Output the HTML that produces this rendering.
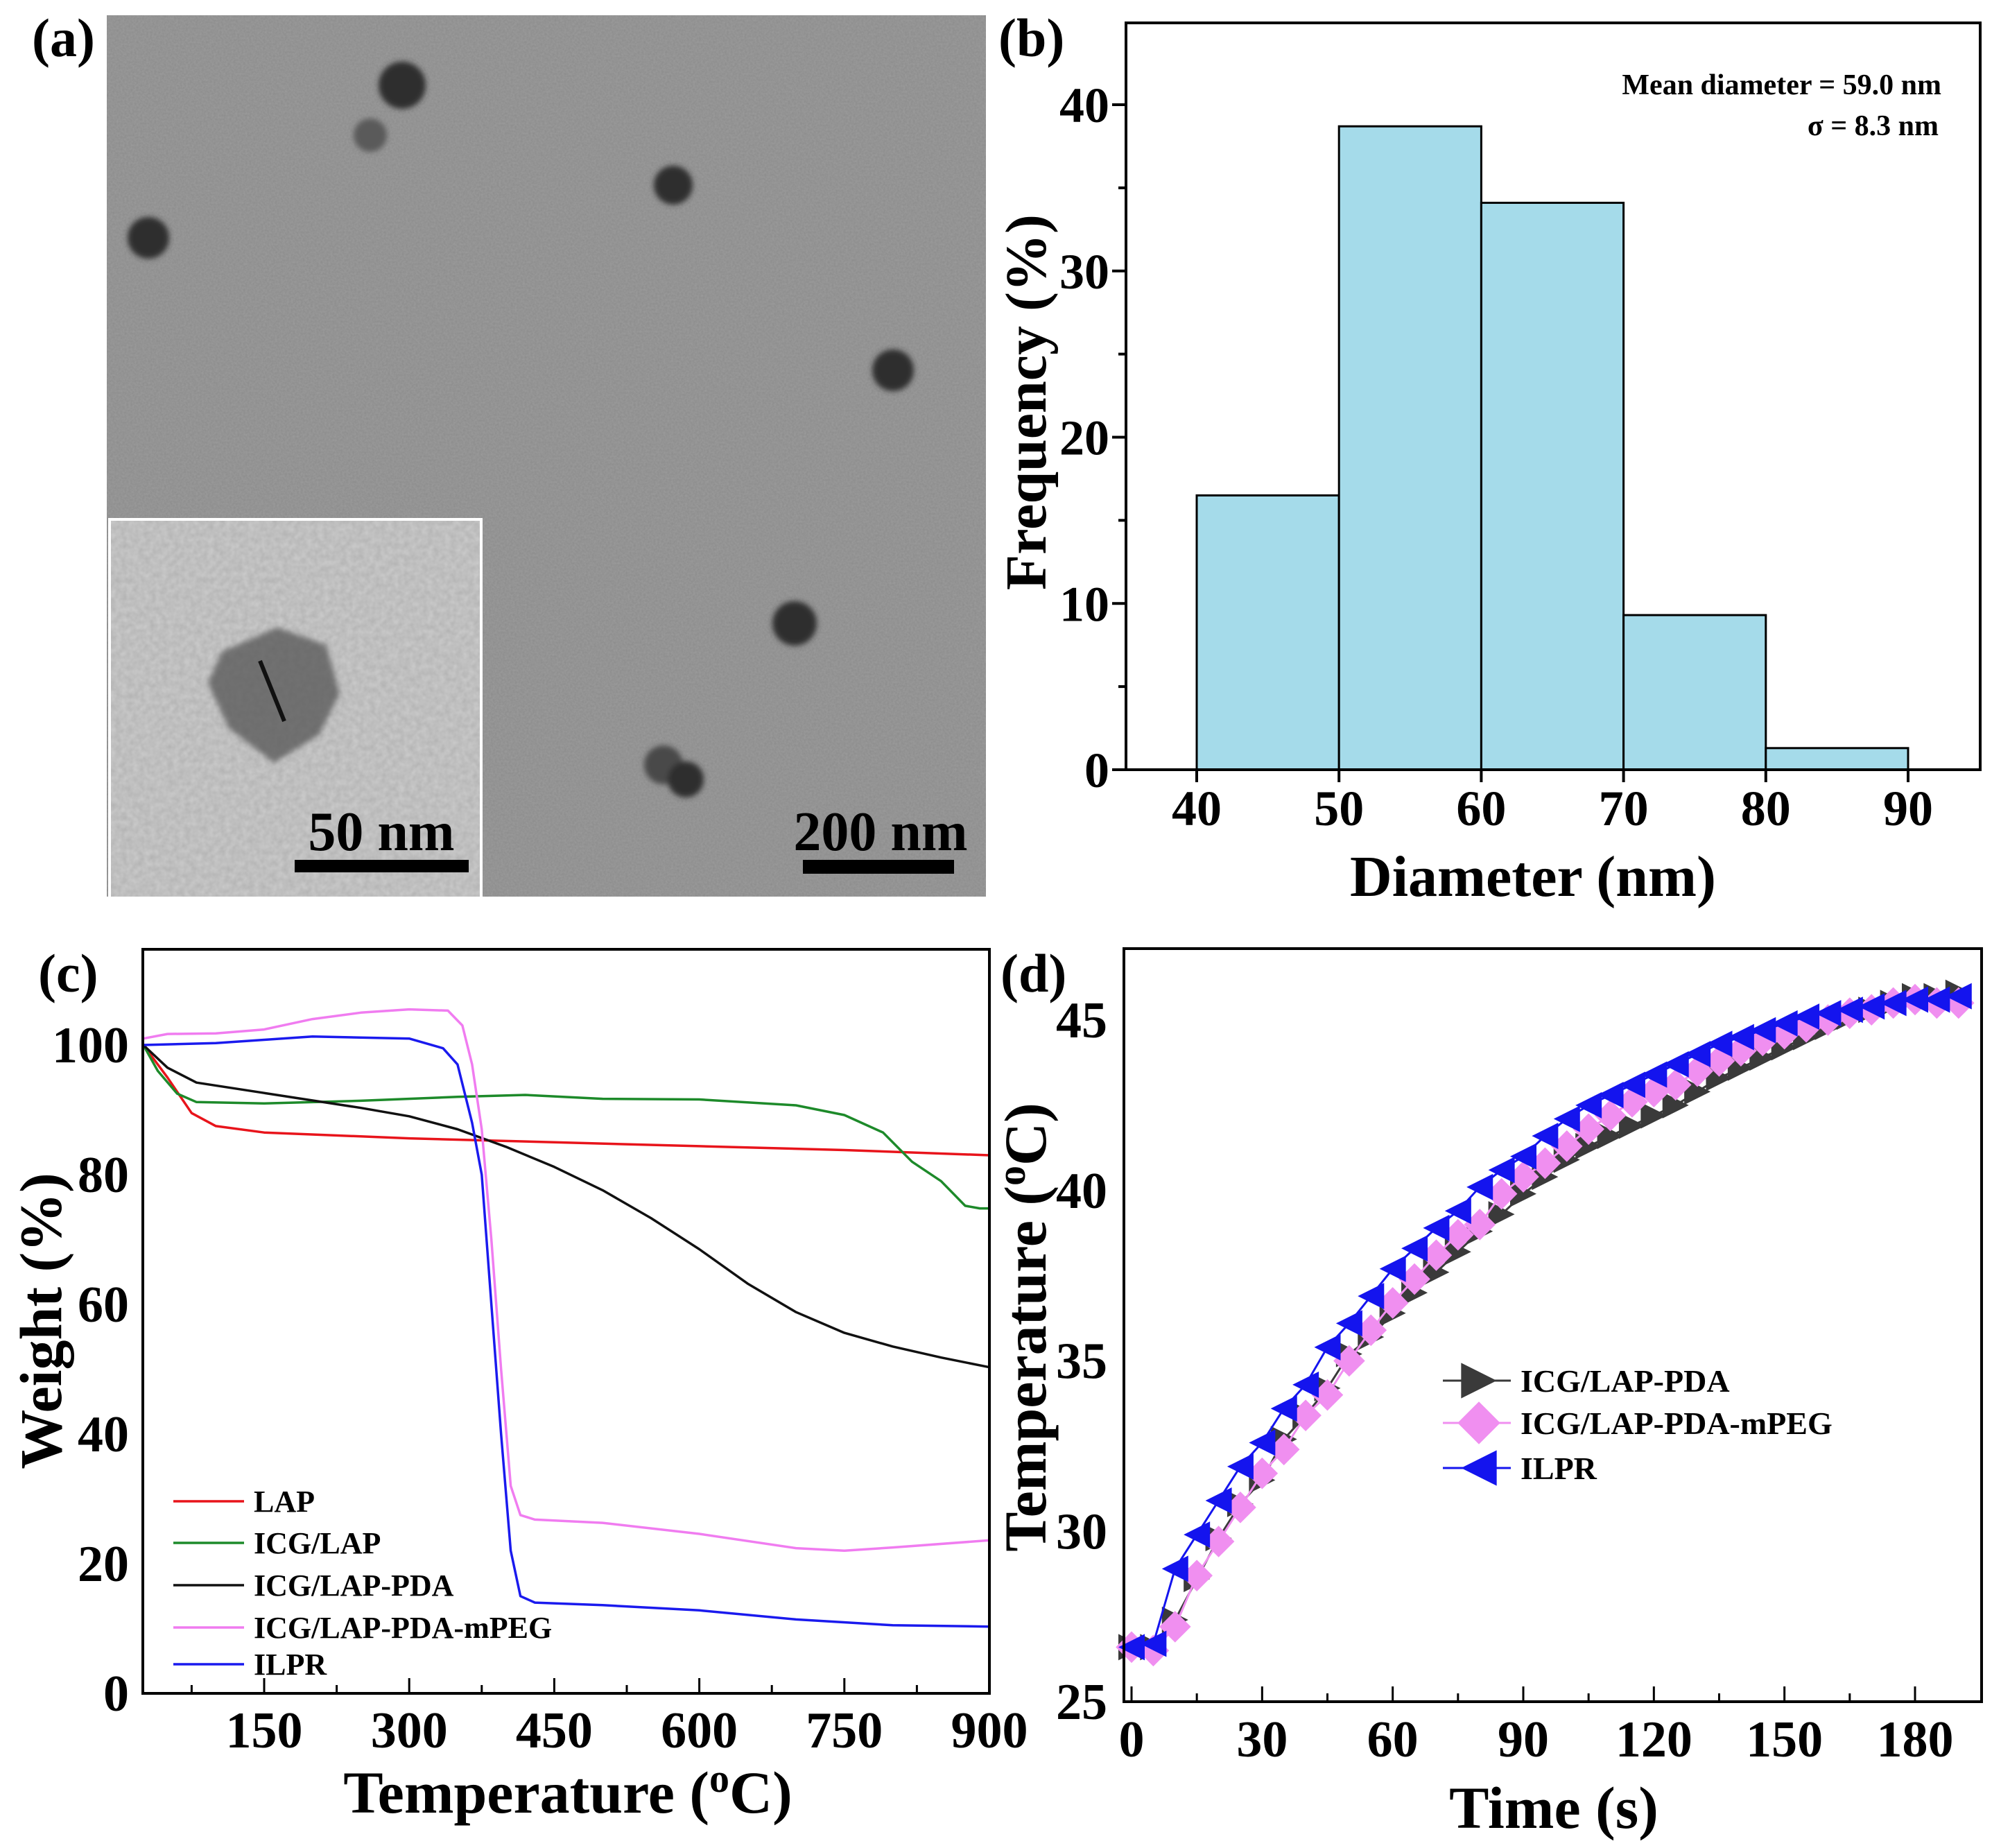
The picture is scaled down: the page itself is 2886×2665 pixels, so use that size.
<!DOCTYPE html>
<html><head><meta charset="utf-8"><style>
html,body{margin:0;padding:0;background:#fff}
svg{display:block}
text{font-family:"Liberation Serif",serif;font-weight:bold;fill:#000}
</style></head><body>
<svg id="fig" width="2886" height="2665" viewBox="0 0 2886 2665" xmlns="http://www.w3.org/2000/svg">
<defs>
<filter id="noise" x="0" y="0" width="100%" height="100%">
<feTurbulence type="fractalNoise" baseFrequency="0.35" numOctaves="2" seed="3"/>
<feColorMatrix type="matrix" values="0 0 0 0 0.5  0 0 0 0 0.5  0 0 0 0 0.5  0 0 0 0.35 0"/>
</filter>
<filter id="noise2" x="0" y="0" width="100%" height="100%">
<feTurbulence type="fractalNoise" baseFrequency="0.12" numOctaves="2" seed="7"/>
<feColorMatrix type="matrix" values="0 0 0 0 0.4  0 0 0 0 0.4  0 0 0 0 0.4  0 0 0 0.9 -0.15"/>
</filter>
<filter id="blur"><feGaussianBlur stdDeviation="4"/></filter>
</defs>

<g>
<rect x="154" y="22" width="1268" height="1271" fill="#8b8b8b"/>
<rect x="154" y="22" width="1268" height="1271" filter="url(#noise)"/>
<g fill="#2e2e2e" filter="url(#blur)">
<circle cx="580" cy="123" r="34"/><circle cx="534" cy="195" r="24" fill="#5a5a5a"/>
<circle cx="971" cy="267" r="28"/><circle cx="214" cy="343" r="30"/>
<circle cx="1288" cy="534" r="30"/><circle cx="1146" cy="899" r="32"/>
<circle cx="957" cy="1103" r="28" fill="#4a4a4a"/><circle cx="989" cy="1124" r="26"/>
</g>
<rect x="160" y="751" width="532" height="542" fill="#c8c8c8"/>
<rect x="160" y="751" width="532" height="542" filter="url(#noise2)"/>
<rect x="158" y="749" width="536" height="546" fill="none" stroke="#fff" stroke-width="4"/>
<path d="M320,940 L400,905 L470,930 L490,1000 L460,1060 L395,1100 L330,1050 L300,985 Z" fill="#555" opacity="0.75" filter="url(#blur)"/>
<line x1="375" y1="953" x2="410" y2="1040" stroke="#111" stroke-width="6"/>
<rect x="425" y="1240" width="251" height="18" fill="#000"/>
<text x="550" y="1226" font-size="80" text-anchor="middle">50 nm</text>
<rect x="1158" y="1240" width="218" height="20" fill="#000"/>
<text x="1270" y="1226" font-size="80" text-anchor="middle">200 nm</text>
<text x="46" y="81" font-size="78">(a)</text>
</g>

<g id="pb"></g>
<g id="pc"></g>
<g id="pd"></g>
</svg>
<script>
// ---- Panel b data ----
const binEdges = [40, 50, 60, 70, 80, 90];
const binFreq = [16.5, 38.7, 34.1, 9.3, 1.3];
const bXTicks = [40, 50, 60, 70, 80, 90];
const bYTicks = [0, 10, 20, 30, 40];

// ---- Panel c data ----
const lapT = [25, 50, 75, 100, 150, 300, 450, 600, 750, 900];
const lapW = [100, 95, 89.5, 87.5, 86.5, 85.6, 85, 84.4, 83.8, 83];
const icgT = [25, 40, 60, 80, 150, 250, 350, 420, 500, 600, 700, 750, 790, 820, 850, 875, 890, 900];
const icgW = [100, 96, 92.5, 91.2, 91, 91.4, 92, 92.3, 91.7, 91.6, 90.7, 89.2, 86.5, 82, 79, 75.2, 74.8, 74.8];
const pdaT = [25, 50, 80, 150, 250, 300, 350, 400, 450, 500, 550, 600, 650, 700, 750, 800, 850, 900];
const pdaW = [100, 96.5, 94.2, 92.6, 90.3, 89, 87, 84.3, 81.2, 77.6, 73.3, 68.5, 63.2, 58.8, 55.6, 53.5, 51.8, 50.3];
const pegT = [25, 50, 100, 150, 200, 250, 300, 340, 355, 365, 375, 385, 395, 405, 415, 430, 500, 600, 700, 750, 800, 900];
const pegW = [101, 101.7, 101.8, 102.4, 104, 105, 105.5, 105.3, 103, 97, 87, 70, 50, 32, 27.5, 26.8, 26.3, 24.6, 22.4, 22, 22.5, 23.6];
const ilprT = [25, 100, 150, 200, 300, 335, 350, 365, 375, 385, 395, 405, 415, 430, 500, 600, 700, 800, 900];
const ilprW = [100, 100.3, 100.8, 101.3, 101, 99.5, 97, 88, 80, 60, 40, 22, 15, 14, 13.6, 12.8, 11.4, 10.5, 10.3];
const cXTicks = [150, 300, 450, 600, 750, 900];
const cYTicks = [0, 20, 40, 60, 80, 100];

// ---- Panel d data ----
const timeS = [0,5,10,15,20,25,30,35,40,45,50,55,60,65,70,75,80,85,90,95,100,105,110,115,120,125,130,135,140,145,150,155,160,165,170,175,180,185,190];
const ilprTemp = [26.6,26.7,28.9,29.9,30.9,31.9,32.6,33.6,34.3,35.4,36.1,36.9,37.7,38.3,38.9,39.4,40.1,40.6,41.0,41.6,42.1,42.5,42.8,43.1,43.4,43.7,44.0,44.3,44.5,44.7,44.9,45.1,45.2,45.3,45.4,45.5,45.6,45.6,45.7];
const pegTemp = [26.6,26.5,27.2,28.7,29.7,30.7,31.7,32.4,33.4,34.0,35.0,35.9,36.7,37.4,38.1,38.7,39.0,39.9,40.4,40.8,41.3,41.8,42.2,42.6,42.9,43.1,43.5,43.8,44.1,44.4,44.6,44.8,45.0,45.2,45.3,45.5,45.6,45.5,45.5];
const pdaTemp = [26.6,26.6,27.4,28.6,29.8,30.8,31.5,32.7,33.4,34.2,35.2,35.7,36.4,37.0,37.6,38.2,38.8,39.3,39.9,40.4,40.9,41.3,41.6,41.9,42.2,42.5,42.9,43.3,43.6,43.9,44.2,44.5,44.8,45.1,45.3,45.5,45.7,45.7,45.8];
const dXTicks = [0, 30, 60, 90, 120, 150, 180];
const dYTicks = [25, 30, 35, 40, 45];

const NS = "http://www.w3.org/2000/svg";
function mk(parent, tag, attrs, txt) {
  const e = document.createElementNS(NS, tag);
  for (const k in attrs) e.setAttribute(k, attrs[k]);
  if (txt !== undefined) e.textContent = txt;
  parent.appendChild(e);
  return e;
}
function lin(d0, d1, r0, r1) { return v => r0 + (v - d0) / (d1 - d0) * (r1 - r0); }

// ================= Panel b =================
(function () {
  const g = document.getElementById('pb');
  const L = 1624, R = 2856, T = 33, B = 1110;
  const x = lin(40, 90, 1726, 2752);
  const y = lin(0, 40, 1110, 151);
  for (let i = 0; i < binFreq.length; i++) {
    const r = mk(g, 'rect', { x: x(binEdges[i]), y: y(binFreq[i]), width: x(binEdges[i + 1]) - x(binEdges[i]), height: y(0) - y(binFreq[i]), fill: '#a5dbea', stroke: '#000', 'stroke-width': 3 });
    
    
  }
  const box = mk(g, 'rect', { x: L, y: T, width: R - L, height: B - T, fill: 'none', stroke: '#000', 'stroke-width': 4 });
  
  
  bXTicks.forEach(v => {
    mk(g, 'line', { x1: x(v), y1: B, x2: x(v), y2: B + 18, stroke: '#000', 'stroke-width': 4 });
    const t = mk(g, 'text', { x: x(v), y: 1190, 'font-size': 72, 'text-anchor': 'middle' }, v);
    
    
  });
  for (let v = 0; v <= 40; v += 5) {
    mk(g, 'line', { x1: L, y1: y(v), x2: L - (v % 10 === 0 ? 20 : 11), y2: y(v), stroke: '#000', 'stroke-width': 4 });
  }
  bYTicks.forEach(v => {
    const t = mk(g, 'text', { x: 1600, y: y(v) + 25, 'font-size': 72, 'text-anchor': 'end' }, v);
    
    
  });
  const xt = mk(g, 'text', { x: 2211, y: 1292, 'font-size': 84, 'text-anchor': 'middle' }, 'Diameter (nm)');
  
  
  const yt = mk(g, 'text', { x: 0, y: 0, 'font-size': 84, 'text-anchor': 'middle', transform: 'translate(1508,580) rotate(-90)' }, 'Frequency (%)');
  
  
  const a1 = mk(g, 'text', { x: 2800, y: 136, 'font-size': 42, 'text-anchor': 'end' }, 'Mean diameter = 59.0 nm');
  
  
  const a2 = mk(g, 'text', { x: 2796, y: 195, 'font-size': 42, 'text-anchor': 'end' }, 'σ = 8.3 nm');
  
  
  const pl = mk(g, 'text', { x: 1440, y: 81, 'font-size': 78 }, '(b)');
  
  
})();

// ================= Panel c =================
(function () {
  const g = document.getElementById('pc');
  const L = 206, R = 1427, T = 1369, B = 2442;
  const x = lin(150, 900, 381, 1427);
  const y = lin(0, 100, 2442, 1507);
  const series = [
    [lapT, lapW, '#e8141b', 'LAP', 'lap-line'],
    [icgT, icgW, '#1d8a2a', 'ICG/LAP', 'icg-lap-line'],
    [pdaT, pdaW, '#111111', 'ICG/LAP-PDA', 'icg-lap-pda-line'],
    [pegT, pegW, '#f07cf0', 'ICG/LAP-PDA-mPEG', 'icg-lap-pda-mpeg-line'],
    [ilprT, ilprW, '#1a1aee', 'ILPR', 'ilpr-line']
  ];
  series.forEach(s => {
    const pts = s[0].map((t, i) => x(t).toFixed(1) + ',' + y(s[1][i]).toFixed(1)).join(' ');
    const p = mk(g, 'polyline', { points: pts, fill: 'none', stroke: s[2], 'stroke-width': 3.5, 'stroke-linejoin': 'round' });
    
    
  });
  const box = mk(g, 'rect', { x: L, y: T, width: R - L, height: B - T, fill: 'none', stroke: '#000', 'stroke-width': 4 });
  
  
  for (let v = 75; v <= 900; v += 75) {
    const major = v % 150 === 0;
    mk(g, 'line', { x1: x(v), y1: B, x2: x(v), y2: B - (major ? 22 : 12), stroke: '#000', 'stroke-width': 3 });
  }
  cXTicks.forEach(v => {
    const t = mk(g, 'text', { x: x(v), y: 2520, 'font-size': 74, 'text-anchor': 'middle' }, v);
    
    
  });
  cYTicks.forEach(v => {
    const t = mk(g, 'text', { x: 186, y: y(v) + 25, 'font-size': 74, 'text-anchor': 'end' }, v);
    
    
  });
  const xt = mk(g, 'text', { x: 819, y: 2614, 'font-size': 86, 'text-anchor': 'middle' });
  
  
  xt.innerHTML = 'Temperature (<tspan font-size="58" dy="-30">o</tspan><tspan dy="30">C)</tspan>';
  const yt = mk(g, 'text', { x: 0, y: 0, 'font-size': 86, 'text-anchor': 'middle', transform: 'translate(88,1905) rotate(-90)' }, 'Weight (%)');
  
  
  const ly = [2165, 2225, 2286, 2347, 2400];
  series.forEach((s, i) => {
    const l = mk(g, 'line', { x1: 250, y1: ly[i], x2: 352, y2: ly[i], stroke: s[2], 'stroke-width': 3.5 });
    
    
    const t = mk(g, 'text', { x: 366, y: ly[i] + 15, 'font-size': 44 }, s[3]);
    
    
  });
  const pl = mk(g, 'text', { x: 55, y: 1430, 'font-size': 78 }, '(c)');
  
  
})();

// ================= Panel d =================
(function () {
  const g = document.getElementById('pd');
  const L = 1621, R = 2858, T = 1368, B = 2454;
  const x = lin(0, 180, 1632, 2762);
  const y = lin(25, 45, 2454, 1471);
  const rad = 19;
  function marker(parent, kind, cx, cy, col) {
    let pts;
    if (kind === 'right') pts = [[cx - rad, cy - rad], [cx + rad, cy], [cx - rad, cy + rad]];
    else if (kind === 'left') pts = [[cx + rad, cy - rad], [cx - rad, cy], [cx + rad, cy + rad]];
    else pts = [[cx, cy - rad * 1.2], [cx + rad * 1.2, cy], [cx, cy + rad * 1.2], [cx - rad * 1.2, cy]];
    return mk(parent, 'polygon', { points: pts.map(p => p.join(',')).join(' '), fill: col });
  }
  const series = [
    [pdaTemp, '#3a3a3a', 'right', 'ICG/LAP-PDA', 'icg-lap-pda-series'],
    [pegTemp, '#f08ff0', 'diamond', 'ICG/LAP-PDA-mPEG', 'icg-lap-pda-mpeg-series'],
    [ilprTemp, '#1414ee', 'left', 'ILPR', 'ilpr-series']
  ];
  series.forEach(s => {
    const sg = mk(g, 'g', {});
    
    
    const pts = timeS.map((t, i) => x(t).toFixed(1) + ',' + y(s[0][i]).toFixed(1)).join(' ');
    mk(sg, 'polyline', { points: pts, fill: 'none', stroke: s[1], 'stroke-width': 3 });
    timeS.forEach((t, i) => {
      const m = marker(sg, s[2], x(t), y(s[0][i]), s[1]);
      
      
    });
  });
  const box = mk(g, 'rect', { x: L, y: T, width: R - L, height: B - T, fill: 'none', stroke: '#000', 'stroke-width': 4 });
  
  
  for (let v = 0; v <= 190; v += 15) {
    const major = v % 30 === 0;
    mk(g, 'line', { x1: x(v), y1: B, x2: x(v), y2: B - (major ? 22 : 12), stroke: '#000', 'stroke-width': 3 });
  }
  dXTicks.forEach(v => {
    const t = mk(g, 'text', { x: x(v), y: 2533, 'font-size': 74, 'text-anchor': 'middle' }, v);
    
    
  });
  dYTicks.forEach(v => {
    const t = mk(g, 'text', { x: 1597, y: y(v) + 25, 'font-size': 74, 'text-anchor': 'end' }, v);
    
    
  });
  const xt = mk(g, 'text', { x: 2241, y: 2636, 'font-size': 86, 'text-anchor': 'middle' }, 'Time (s)');
  
  
  const yt = mk(g, 'text', { x: 0, y: 0, 'font-size': 86, 'text-anchor': 'middle', transform: 'translate(1508,1914) rotate(-90)' });
  
  
  yt.innerHTML = 'Temperature (<tspan font-size="58" dy="-30">o</tspan><tspan dy="30">C)</tspan>';
  const ly = [1991, 2052, 2117];
  series.forEach((s, i) => {
    const lg = mk(g, 'g', {});
    
    
    mk(lg, 'line', { x1: 2081, y1: ly[i], x2: 2179, y2: ly[i], stroke: s[1], 'stroke-width': 3 });
    marker(lg, s[2], 2133, ly[i], s[1]).setAttribute('transform', 'translate(2133,' + ly[i] + ') scale(1.35) translate(-2133,-' + ly[i] + ')');
    mk(lg, 'text', { x: 2193, y: ly[i] + 16, 'font-size': 46 }, s[3]);
  });
  const pl = mk(g, 'text', { x: 1443, y: 1430, 'font-size': 78 }, '(d)');
  
  
})();
</script>
</body></html>
